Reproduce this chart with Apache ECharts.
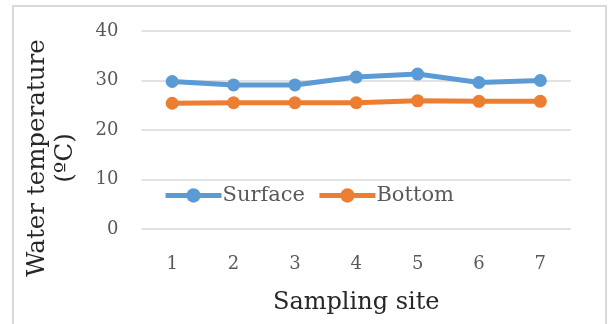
<!DOCTYPE html>
<html><head><meta charset="utf-8">
<script src="https://cdn.jsdelivr.net/npm/echarts@6/dist/echarts.min.js"></script>
<style>html,body{margin:0;padding:0;background:#fff}#c{width:608px;height:324px}</style>
</head><body><div id="c"></div>
<script>
var categories = ['1','2','3','4','5','6','7'];
var surface = [29.8, 29.1, 29.1, 30.7, 31.3, 29.6, 30.0];
var bottom = [25.4, 25.5, 25.5, 25.5, 25.9, 25.8, 25.8];
var seriesNames = ['Surface','Bottom'];
var xTitle = 'Sampling site';
var yTitle = 'Water temperature\n(ºC)';
var FONT = '"DejaVu Serif", serif';
var chart = echarts.init(document.getElementById('c'));
chart.setOption({
  animation:false,
  graphic:[
    {type:'rect', shape:{x:13,y:6,width:593,height:330}, style:{fill:'none',stroke:'#d9d9d9',lineWidth:2}, silent:true},
    {type:'text', x:52, y:158, rotation:Math.PI/2, style:{text:yTitle, fontFamily:FONT, fontSize:24.5, fill:'#262626', align:'center', verticalAlign:'middle', lineHeight:28}}
  ],
  grid:{left:141.5, right:37, top:31, bottom:95, containLabel:false},
  legend:{
    data:seriesNames, left:158, top:180, itemWidth:56, itemHeight:18, itemGap:12,
    lineStyle:{width:5},
    textStyle:{fontFamily:FONT, fontSize:21, color:'#595959', padding:[0,0,0,-4]}
  },
  xAxis:{
    type:'category', data:categories, boundaryGap:true,
    axisLine:{show:false}, axisTick:{show:false},
    axisLabel:{fontFamily:FONT, fontSize:18, color:'#595959', margin:26},
    name:xTitle, nameLocation:'middle', nameGap:62,
    nameTextStyle:{fontFamily:FONT, fontSize:24, color:'#262626'}
  },
  yAxis:{
    type:'value', min:0, max:40, interval:10,
    axisLine:{show:false}, axisTick:{show:false},
    axisLabel:{fontFamily:FONT, fontSize:18, color:'#595959', margin:23},
    splitLine:{lineStyle:{color:'#d9d9d9', width:1.5}}
  },
  series:[
    {name:seriesNames[0], type:'line', data:surface, color:'#5B9BD5', symbol:'circle', symbolSize:13, lineStyle:{width:5}},
    {name:seriesNames[1], type:'line', data:bottom, color:'#ED7D31', symbol:'circle', symbolSize:13, lineStyle:{width:5}}
  ]
});
</script></body></html>
